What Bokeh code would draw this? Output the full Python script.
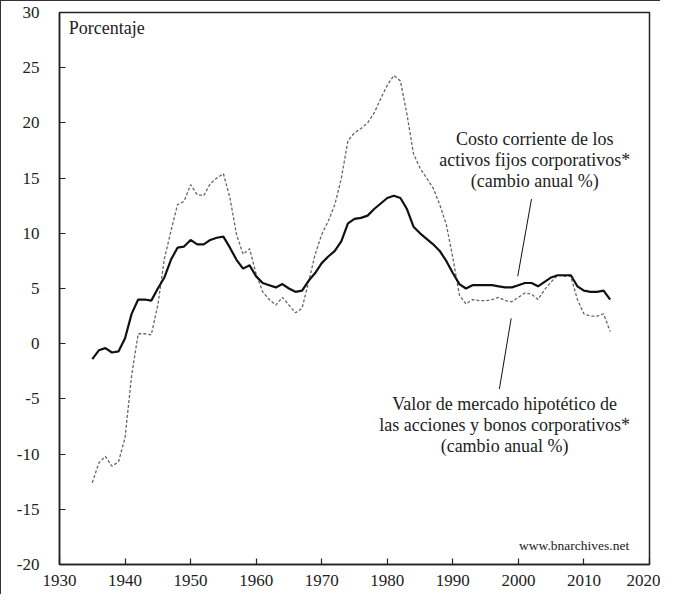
from bokeh.plotting import figure
from bokeh.models import Label, Range1d, FixedTicker, ColumnDataSource
from bokeh.embed import file_html
from bokeh.resources import INLINE

years = list(range(1935, 2015))

costo_corriente = [
    -1.4, -0.6, -0.4, -0.8, -0.7, 0.5, 2.7, 4.0, 4.0, 3.9,
    5.0, 6.0, 7.6, 8.7, 8.8, 9.4, 9.0, 9.0, 9.4, 9.6,
    9.7, 8.7, 7.6, 6.8, 7.1, 6.1, 5.5, 5.3, 5.1, 5.4,
    5.0, 4.7, 4.8, 5.7, 6.4, 7.3, 7.9, 8.4, 9.3, 10.9,
    11.3, 11.4, 11.6, 12.2, 12.7, 13.2, 13.4, 13.2, 12.2, 10.6,
    10.0, 9.5, 9.0, 8.4, 7.5, 6.4, 5.4, 5.0, 5.3, 5.3,
    5.3, 5.3, 5.2, 5.1, 5.1, 5.3, 5.5, 5.5, 5.2, 5.6,
    6.0, 6.2, 6.2, 6.2, 5.2, 4.8, 4.7, 4.7, 4.8, 4.0,
]

valor_mercado = [
    -12.6, -10.8, -10.2, -11.1, -10.7, -8.5, -2.9, 0.9, 0.9, 0.8,
    3.5, 7.7, 10.2, 12.6, 12.9, 14.4, 13.5, 13.4, 14.5, 15.0,
    15.4, 13.2, 9.9, 8.1, 8.6, 6.3, 4.7, 4.0, 3.5, 4.2,
    3.5, 2.8, 3.2, 5.6, 8.1, 9.9, 11.1, 12.6, 15.0, 18.4,
    19.1, 19.5, 20.0, 20.9, 22.2, 23.4, 24.3, 23.8, 20.8, 17.2,
    15.9, 15.0, 14.1, 12.6, 10.8, 7.8, 4.4, 3.6, 4.0, 3.9,
    3.9, 4.0, 4.2, 3.9, 3.8, 4.2, 4.6, 4.5, 4.0, 4.9,
    5.6, 6.2, 6.1, 6.1, 4.0, 2.7, 2.5, 2.5, 2.7, 1.1,
]

x_ticks = [1930, 1940, 1950, 1960, 1970, 1980, 1990, 2000, 2010, 2020]
y_ticks = [-20, -15, -10, -5, 0, 5, 10, 15, 20, 25, 30]
y_tick_labels = ["-20", "-15", "-10", "-5", "0", "5", "10", "15", "20", "25", "30"]

FONT = "Liberation Serif"

p = figure(width=660, height=594, output_backend="svg", toolbar_location=None,
           x_range=Range1d(1930, 2020), y_range=Range1d(-20, 30),
           min_border_left=58, min_border_right=12, min_border_top=11, min_border_bottom=31)

p.background_fill_color = "white"
p.border_fill_color = "white"
p.outline_line_color = "#222222"
p.outline_line_width = 1.5
p.xgrid.visible = False
p.ygrid.visible = False

for ax in (p.xaxis, p.yaxis):
    ax.major_tick_in = 6
    ax.major_tick_out = 0
    ax.minor_tick_in = 0
    ax.minor_tick_out = 0
    ax.axis_line_color = "#222222"
    ax.axis_line_width = 1.5
    ax.major_tick_line_color = "#222222"
    ax.major_tick_line_width = 1.2
    ax.major_label_text_font = FONT
    ax.major_label_text_font_size = "17px"
    ax.major_label_text_color = "#222222"

p.xaxis.ticker = FixedTicker(ticks=x_ticks)
p.yaxis.ticker = FixedTicker(ticks=y_ticks)
p.yaxis.major_label_overrides = {t: s for t, s in zip(y_ticks, y_tick_labels)}
p.xaxis.major_label_standoff = 10
p.yaxis.major_label_standoff = 20

p.line(years, valor_mercado, line_color="#666666", line_width=1.3, line_dash="3 2")
p.line(years, costo_corriente, line_color="#111111", line_width=2.2)

# leader lines
src = ColumnDataSource(dict(x0=[2002.0, 1998.9], y0=[13.1, 2.3], x1=[1999.9, 1997.1], y1=[6.1, -4.1]))
p.segment(x0="x0", y0="y0", x1="x1", y1="y1", source=src, line_color="#111111", line_width=1)

def lab(x, y, t, size="18px", align="center"):
    p.add_layout(Label(x=x, y=y, text=t, text_font=FONT, text_font_size=size,
                       text_align=align, text_baseline="middle", text_color="#222222"))

lab(1931.4, 28.6, "Porcentaje", align="left")
lab(2002.5, 18.5, "Costo corriente de los")
lab(2002.5, 16.6, "activos fijos corporativos*")
lab(2002.5, 14.7, "(cambio anual %)")
lab(1997.9, -5.5, "Valor de mercado hipotético de")
lab(1997.9, -7.4, "las acciones y bonos corporativos*")
lab(1997.9, -9.3, "(cambio anual %)")
lab(2016.9, -18.3, "www.bnarchives.net", size="13.5px", align="right")

p.styles = {"border-top": "1.5px solid #333333", "border-left": "1.5px solid #333333"}

open("out.html", "w").write(file_html(p, INLINE))
